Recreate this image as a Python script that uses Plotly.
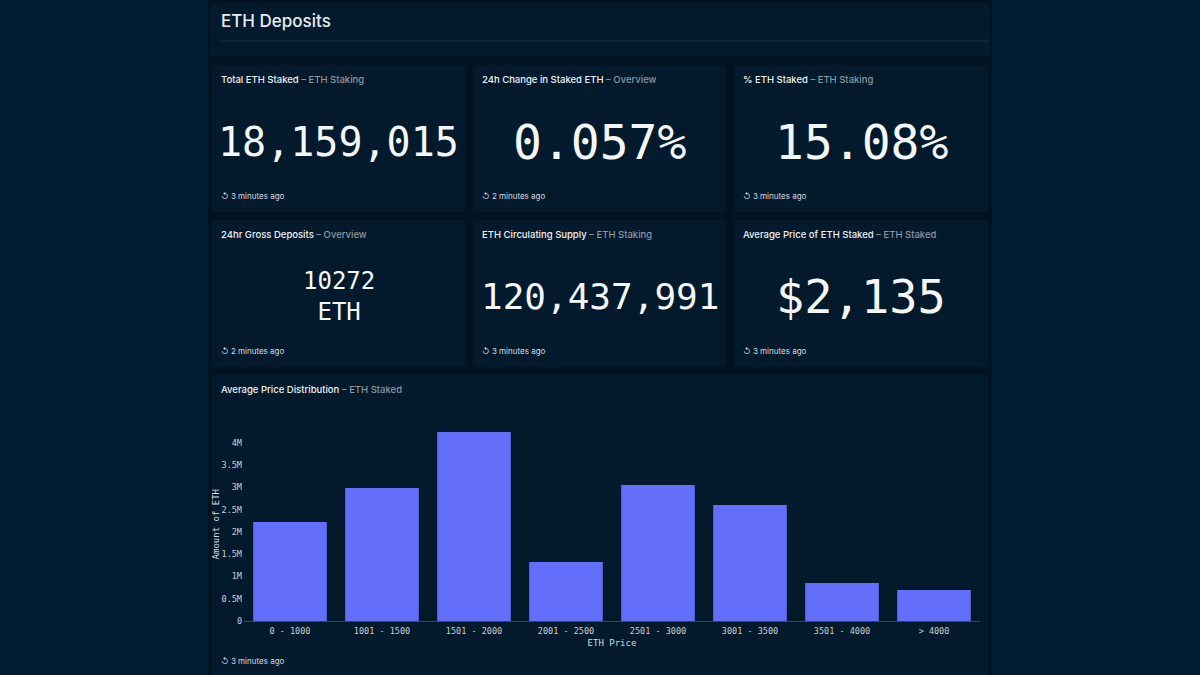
import plotly.graph_objects as go

# ---- data ----
price_bins = ["0 - 1000", "1001 - 1500", "1501 - 2000", "2001 - 2500",
              "2501 - 3000", "3001 - 3500", "3501 - 4000", "> 4000"]
eth_amount = [2225000, 2990000, 4245000, 1325000, 3055000, 2605000, 855000, 697000]

y_tickvals = [0, 500000, 1000000, 1500000, 2000000, 2500000, 3000000, 3500000, 4000000]
y_ticktext = ["0", "0.5M", "1M", "1.5M", "2M", "2.5M", "3M", "3.5M", "4M"]

stat_titles = ["Total ETH Staked", "24h Change in Staked ETH", "% ETH Staked",
               "24hr Gross Deposits", "ETH Circulating Supply", "Average Price of ETH Staked"]
stat_sources = ["ETH Staking", "Overview", "ETH Staking",
                "Overview", "ETH Staking", "ETH Staked"]
stat_values = ["18,159,015", "0.057%", "15.08%", "10272<br>ETH", "120,437,991", "$2,135"]
stat_ages = ["3 minutes ago", "2 minutes ago", "3 minutes ago",
             "2 minutes ago", "3 minutes ago", "3 minutes ago"]
stat_sizes = [40, 48, 48, 24, 36, 47]

W, H = 1200, 675
OUTER = "#011c30"
COLUMN = "#011320"
PANEL = "#021a2c"
MONO = "DejaVu Sans Mono"
SANS = "Inter"

def px(x):
    return x / W

def py(y):
    return 1 - y / H

shapes = []
annotations = []

# dashboard column
shapes.append(dict(type="rect", xref="paper", yref="paper", x0=px(208), x1=px(992),
                   y0=0, y1=1, fillcolor=COLUMN, line_width=0, layer="below"))
# header
shapes.append(dict(type="rect", xref="paper", yref="paper", x0=px(210), x1=px(990),
                   y0=py(56), y1=py(3), fillcolor=PANEL, line_width=0, layer="below"))
shapes.append(dict(type="line", xref="paper", yref="paper", x0=px(221), x1=px(990),
                   y0=py(41), y1=py(41), line=dict(color="#1c2e3f", width=1), layer="below"))
annotations.append(dict(xref="paper", yref="paper", x=px(219), y=py(21), xanchor="left",
                        yanchor="middle", showarrow=False, text="ETH Deposits",
                        font=dict(family=SANS, size=17, color="#e8ecf0", weight=500)))

cols = [(212, 465), (473, 726), (734, 988)]
rows = [(65, 212), (220, 367)]

for i in range(6):
    r, c = divmod(i, 3)
    x0, x1 = cols[c]
    y0, y1 = rows[r]
    shapes.append(dict(type="rect", xref="paper", yref="paper", x0=px(x0), x1=px(x1),
                       y0=py(y1), y1=py(y0), fillcolor=PANEL, line_width=0, layer="below"))
    annotations.append(dict(xref="paper", yref="paper", x=px(x0 + 7), y=py(y0 + 15),
                            xanchor="left", yanchor="middle", showarrow=False,
                            text=f"{stat_titles[i]} <span style='color:#8c97a3'>– {stat_sources[i]}</span>",
                            font=dict(family=SANS, size=9.5, color="#eef1f4", weight=500)))
    annotations.append(dict(xref="paper", yref="paper", x=px((x0 + x1) / 2), y=py(y0 + 77),
                            xanchor="center", yanchor="middle", showarrow=False,
                            text=stat_values[i],
                            font=dict(family=MONO, size=stat_sizes[i], color="#f4f6f8")))
    annotations.append(dict(xref="paper", yref="paper", x=px(x0 + 7), y=py(y0 + 131),
                            xanchor="left", yanchor="middle", showarrow=False,
                            text=f"↺ {stat_ages[i]}",
                            font=dict(family=SANS, size=8, color="#d6dbe0")))

# chart panel
shapes.append(dict(type="rect", xref="paper", yref="paper", x0=px(212), x1=px(988),
                   y0=0, y1=py(375), fillcolor=PANEL, line_width=0, layer="below"))
annotations.append(dict(xref="paper", yref="paper", x=px(219), y=py(390),
                        xanchor="left", yanchor="middle", showarrow=False,
                        text="Average Price Distribution <span style='color:#8c97a3'>– ETH Staked</span>",
                        font=dict(family=SANS, size=9.5, color="#eef1f4", weight=500)))
annotations.append(dict(xref="paper", yref="paper", x=px(219), y=py(661),
                        xanchor="left", yanchor="middle", showarrow=False,
                        text="↺ 3 minutes ago",
                        font=dict(family=SANS, size=8, color="#d6dbe0")))

fig = go.Figure(go.Bar(x=price_bins, y=eth_amount, marker=dict(color="#636efa", line_width=0)))

y_top = 4350000
fig.update_layout(
    width=W, height=H,
    margin=dict(l=0, r=0, t=0, b=0, pad=0),
    paper_bgcolor=OUTER, plot_bgcolor="rgba(0,0,0,0)",
    showlegend=False, bargap=0.2,
    shapes=shapes, annotations=annotations,
    xaxis=dict(domain=[px(244), px(980)], showgrid=False, zeroline=False, automargin=False,
               showline=True, linecolor="#3a4756", linewidth=1,
               tickfont=dict(family=MONO, size=8.5, color="#c9cfd6"), ticks="",
               ticklabelstandoff=2,
               title=dict(text="ETH Price", font=dict(family=MONO, size=9, color="#d6dbe0"),
                          standoff=4)),
    yaxis=dict(domain=[py(621), py(621 - 44.5 * y_top / 1e6)], range=[0, y_top],
               showgrid=False, zeroline=False, showline=False, automargin=False,
               tickvals=y_tickvals, ticktext=y_ticktext, ticks="",
               tickfont=dict(family=MONO, size=8.5, color="#c9cfd6"),
               ticklabelstandoff=1,
               title=dict(text="Amount of ETH", font=dict(family=MONO, size=9, color="#d6dbe0"),
                          standoff=0)),
)

fig.write_html(
    "out.html",
    config={"displayModeBar": False},
    post_script=("document.body.style.margin='0';document.body.style.lineHeight='0';"
                 "document.body.style.height='675px';document.body.style.overflow='hidden';"
                 "document.documentElement.style.overflow='hidden';"),
)
